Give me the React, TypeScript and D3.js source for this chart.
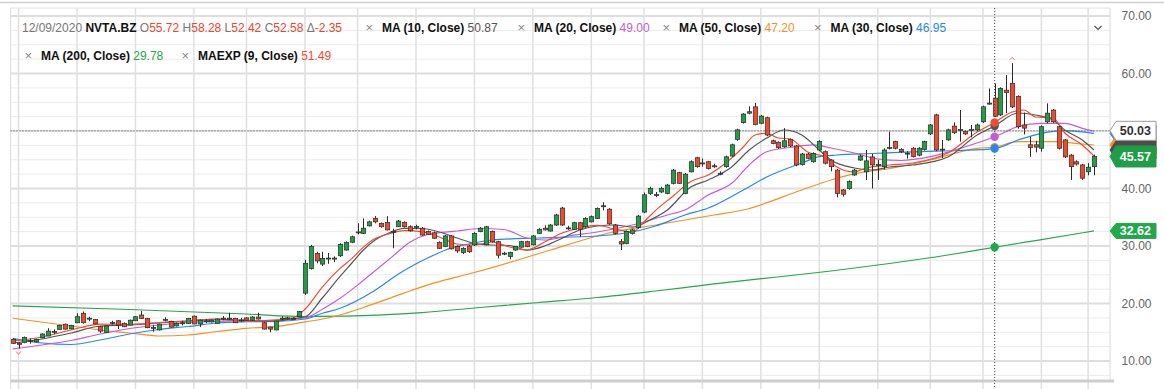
import { useEffect, useRef } from 'react';
import * as d3 from 'd3';

// daily candles, oldest first
const opens = [
  13.77, 13.1, 13.25, 13.5, 13.35, 14.05, 14.35, 15.1, 15.5, 16.4,
  15.6, 16.65, 18.3, 17.4, 17.2, 16.0, 14.95, 16.65, 17.0, 16.55,
  16.25, 17.0, 18.0, 17.4, 15.8, 15.4, 17.2, 16.9, 16.1, 16.6,
  16.55, 17.8, 16.45, 16.95, 16.8, 16.55, 17.4, 17.4, 17.4, 17.1,
  17.5, 17.1, 17.65, 16.65, 15.9, 15.4, 17.4, 17.5, 17.3, 17.7,
  21.8, 26.1, 28.7, 26.85, 27.85, 27.85, 28.3, 29.3, 30.65, 32.4,
  32.2, 33.5, 34.8, 33.95, 34.1, 32.5, 33.35, 34.1, 33.35, 33.35,
  33.1, 32.5, 32.3, 30.6, 29.9, 31.75, 29.9, 28.85, 30.0, 30.2,
  32.5, 30.2, 32.5, 30.75, 28.7, 28.15, 29.3, 29.8, 30.75, 30.2,
  32.2, 33.1, 32.6, 33.65, 36.6, 33.1, 32.9, 34.05, 33.35, 34.2,
  34.8, 36.9, 36.4, 33.65, 30.75, 30.45, 32.2, 33.2, 35.9, 39.15,
  38.9, 39.4, 39.15, 40.9, 42.75, 39.15, 42.9, 45.35, 44.4, 44.65,
  43.9, 42.6, 43.8, 45.65, 48.55, 51.45, 53.1, 54.2, 51.35, 52.3,
  48.3, 48.05, 47.25, 48.55, 47.4, 44.2, 46.0, 44.65, 46.7, 46.4,
  44.95, 43.2, 39.75, 40.0, 42.35, 44.95, 42.9, 45.5, 44.1, 43.8,
  47.1, 48.15, 46.8, 46.1, 47.0, 45.8, 46.8, 49.5, 52.8, 46.8,
  48.45, 50.85, 50.2, 49.9, 50.2, 50.2, 51.6, 54.8, 55.72, 52.8,
  57.1, 58.3, 56.0, 51.05, 47.6, 47.6, 47.0, 51.6, 53.65, 50.75,
  48.45, 45.8, 44.65, 44.1, 42.9, 43.8,
];
const highs = [
  13.95, 13.3, 14.25, 13.95, 13.9, 14.8, 15.7, 15.5, 16.3, 16.5,
  16.3, 18.3, 18.6, 17.7, 17.3, 16.1, 16.2, 17.0, 17.1, 16.7,
  17.2, 17.8, 18.7, 17.5, 16.3, 16.5, 17.6, 17.0, 16.7, 17.0,
  17.5, 17.9, 17.2, 17.3, 17.2, 17.4, 17.8, 18.4, 17.5, 17.5,
  17.6, 17.8, 18.4, 16.8, 16.0, 17.0, 17.8, 17.7, 17.6, 18.7,
  27.6, 30.2, 29.0, 29.0, 28.8, 28.2, 30.5, 30.8, 31.8, 33.95,
  34.8, 34.4, 35.2, 34.1, 35.2, 33.0, 34.5, 34.3, 33.6, 33.7,
  33.3, 32.7, 32.5, 30.8, 31.9, 31.9, 30.1, 29.8, 30.2, 32.4,
  33.3, 33.5, 32.7, 30.9, 29.0, 29.0, 30.0, 30.9, 30.9, 31.9,
  33.1, 33.6, 33.8, 35.6, 36.8, 33.5, 34.2, 34.2, 35.0, 35.3,
  36.7, 37.6, 36.6, 33.8, 31.2, 32.7, 33.0, 35.4, 39.3, 40.3,
  39.4, 40.3, 40.8, 43.4, 42.9, 42.7, 44.9, 45.5, 45.2, 44.8,
  44.3, 43.0, 45.7, 47.8, 50.4, 53.1, 54.3, 54.9, 52.8, 52.5,
  48.5, 48.2, 50.5, 48.7, 47.6, 46.2, 46.2, 46.3, 48.4, 46.6,
  45.1, 43.4, 39.9, 41.4, 43.4, 45.9, 46.7, 46.0, 45.0, 47.0,
  49.9, 48.3, 47.0, 46.5, 47.2, 47.2, 48.3, 51.2, 53.0, 48.45,
  50.4, 51.5, 53.65, 50.1, 51.05, 51.3, 54.4, 57.4, 58.28, 57.6,
  59.75, 61.8, 56.2, 53.2, 49.0, 48.3, 51.0, 54.8, 53.8, 50.9,
  48.6, 46.0, 44.9, 44.3, 44.4, 45.9,
];
const lows = [
  12.95, 12.2, 13.1, 13.0, 13.3, 13.95, 14.3, 14.65, 15.4, 15.45,
  15.5, 16.6, 16.5, 16.9, 16.4, 14.9, 14.9, 16.35, 15.55, 15.9,
  16.2, 16.95, 17.35, 15.7, 15.1, 15.3, 16.9, 15.8, 16.0, 16.2,
  16.5, 16.4, 15.9, 16.6, 16.7, 16.5, 17.1, 17.2, 16.6, 16.8,
  17.0, 17.0, 17.2, 15.5, 15.0, 15.35, 17.1, 17.2, 17.2, 17.6,
  21.5, 25.9, 27.0, 26.5, 26.9, 27.2, 28.1, 29.2, 30.5, 32.0,
  32.1, 33.4, 33.95, 33.2, 32.7, 29.6, 33.3, 33.2, 32.5, 32.9,
  31.8, 31.9, 31.2, 29.5, 29.8, 29.4, 28.8, 28.6, 28.8, 30.0,
  32.4, 30.1, 30.6, 27.85, 28.4, 27.7, 29.2, 29.7, 29.8, 30.1,
  32.1, 32.7, 32.5, 33.5, 33.5, 32.8, 32.8, 31.6, 33.2, 34.1,
  34.7, 36.2, 33.7, 32.0, 29.3, 30.3, 32.0, 33.0, 35.7, 38.9,
  38.5, 39.2, 39.0, 40.7, 40.8, 39.0, 42.8, 43.6, 43.8, 43.3,
  43.6, 42.3, 43.6, 45.5, 48.3, 51.3, 52.9, 51.0, 51.2, 49.1,
  47.7, 46.9, 47.1, 47.2, 43.9, 44.0, 45.1, 44.5, 46.5, 44.2,
  43.0, 38.45, 38.6, 39.8, 42.2, 44.8, 41.5, 40.0, 41.5, 43.3,
  46.8, 46.8, 46.2, 45.2, 45.4, 45.6, 46.6, 49.3, 46.5, 45.3,
  48.3, 49.5, 48.15, 49.3, 48.9, 50.0, 51.4, 54.6, 52.42, 52.6,
  53.1, 54.0, 50.4, 49.4, 45.5, 46.3, 46.4, 51.3, 51.4, 46.8,
  45.3, 41.5, 44.0, 41.5, 42.3, 42.3,
];
const closes = [
  13.08, 12.9, 14.1, 13.55, 13.77, 14.7, 15.2, 15.15, 16.2, 15.55,
  16.2, 17.7, 16.65, 17.45, 16.45, 15.2, 16.1, 16.7, 16.25, 15.95,
  17.1, 17.7, 17.4, 15.8, 15.85, 16.4, 17.25, 15.9, 16.55, 16.65,
  17.4, 16.45, 17.1, 17.0, 17.1, 17.3, 17.45, 17.45, 16.65, 17.15,
  17.1, 17.65, 17.3, 15.55, 15.55, 16.95, 17.45, 17.45, 17.4, 18.6,
  27.0, 29.9, 27.4, 27.85, 27.9, 27.9, 30.3, 30.6, 31.6, 32.45,
  33.1, 34.2, 34.2, 33.35, 32.8, 32.55, 34.35, 33.35, 32.65, 33.4,
  31.9, 32.0, 31.35, 29.6, 31.75, 29.5, 29.15, 29.6, 29.0, 32.2,
  33.1, 33.35, 30.75, 28.4, 28.75, 28.9, 29.9, 30.75, 29.9, 31.75,
  32.9, 32.8, 33.65, 35.4, 33.65, 33.15, 34.05, 32.9, 34.8, 35.1,
  36.55, 37.0, 33.85, 32.2, 30.35, 32.5, 32.8, 35.2, 38.9, 40.0,
  38.95, 40.0, 40.6, 43.2, 40.9, 42.5, 44.65, 43.8, 44.45, 43.5,
  43.95, 42.65, 45.5, 47.6, 50.2, 52.95, 53.35, 51.15, 52.6, 49.3,
  47.85, 47.1, 48.3, 47.4, 44.1, 46.0, 45.25, 46.1, 48.15, 44.4,
  43.8, 39.15, 39.0, 41.2, 43.2, 45.65, 44.8, 44.1, 44.15, 46.7,
  47.15, 47.0, 46.4, 46.15, 45.55, 47.0, 48.15, 51.05, 46.7, 46.85,
  50.2, 49.7, 50.25, 49.5, 50.25, 51.05, 54.2, 54.85, 52.58, 57.4,
  56.7, 54.2, 50.75, 50.5, 47.15, 47.2, 50.75, 53.1, 51.6, 47.0,
  45.5, 43.8, 44.25, 41.8, 43.7, 45.57,
];

// moving averages as [candle index, value]
const ma10 = [
  [0, 13.13], [5, 13.83], [10, 14.87], [15, 16.09], [20, 16.26], [25, 16.61], [30, 16.96], [35, 17.3],
  [40, 17.04], [45, 16.96], [48, 17.39], [50, 17.65], [53, 21.0], [56, 24.7], [58, 27.0], [60, 29.3],
  [62, 31.04], [64, 32.09], [67, 33.08], [70, 33.04], [73, 32.43], [76, 31.39], [79, 30.47], [82, 30.17],
  [85, 30.09], [88, 29.3], [91, 30.0], [94, 31.34], [97, 32.78], [100, 33.48], [103, 33.65], [106, 33.3],
  [109, 34.5], [112, 36.26], [116, 40.26], [119, 41.48], [123, 43.74], [126, 46.7], [129, 48.78], [132, 50.17],
  [135, 49.3], [138, 46.7], [140, 44.96], [144, 43.57], [147, 43.22], [150, 43.74], [154, 44.09], [160, 45.48],
  [165, 49.3], [168, 50.87], [172, 53.13], [175, 52.78], [178, 51.91], [180, 50.17], [183, 48.43], [185, 46.7],
];
const ema9 = [
  [0, 13.48], [5, 14.17], [10, 15.39], [15, 16.43], [20, 16.35], [25, 16.7], [30, 16.96], [35, 17.22],
  [40, 16.96], [45, 17.13], [48, 17.5], [50, 19.0], [53, 22.9], [56, 26.1], [58, 27.8], [60, 29.8],
  [62, 31.3], [64, 32.0], [67, 32.66], [70, 32.49], [73, 31.57], [76, 30.35], [79, 30.17], [82, 30.7],
  [85, 29.83], [88, 29.3], [91, 30.7], [94, 32.26], [97, 33.13], [100, 33.57], [103, 32.96], [106, 32.43],
  [108, 34.2], [110, 36.2], [113, 38.7], [116, 41.2], [119, 42.35], [123, 45.3], [125, 47.22], [127, 49.3],
  [129, 49.6], [131, 48.78], [133, 48.61], [136, 46.35], [139, 45.48], [141, 43.74], [144, 42.87], [146, 43.57],
  [150, 44.09], [154, 44.43], [160, 46.17], [165, 49.83], [168, 51.49], [171, 53.3], [173, 53.65], [175, 52.43],
  [178, 52.26], [180, 49.65], [183, 47.57], [185, 45.65],
];
const ma20 = [
  [0, 12.12], [5, 12.78], [10, 13.57], [15, 14.7], [20, 15.65], [25, 16.26], [30, 16.7], [35, 16.9],
  [40, 17.0], [45, 17.13], [50, 17.48], [53, 19.0], [56, 20.9], [59, 23.2], [62, 25.7], [65, 28.2],
  [68, 30.7], [71, 32.0], [76, 32.61], [80, 33.04], [84, 32.87], [88, 31.39], [91, 31.04], [95, 31.74],
  [100, 32.43], [106, 33.65], [112, 35.39], [115, 36.26], [119, 38.87], [123, 40.9], [126, 44.09], [129, 46.4],
  [133, 47.13], [137, 47.57], [140, 47.04], [144, 46.17], [148, 45.13], [152, 44.87], [157, 45.53], [163, 47.27],
  [168, 49.0], [172, 50.75], [176, 51.34], [180, 51.34], [183, 50.47], [185, 50.0],
];
const ma30 = [
  [0, 13.95], [5, 13.13], [10, 12.87], [15, 13.65], [20, 14.7], [25, 15.48], [30, 16.0], [35, 16.61],
  [40, 16.83], [45, 16.9], [50, 17.3], [53, 18.3], [56, 19.17], [62, 22.3], [66, 25.13], [71, 27.9],
  [75, 29.65], [78, 30.35], [82, 31.04], [90, 31.39], [100, 31.74], [105, 32.26], [110, 33.48], [115, 35.39],
  [119, 36.6], [125, 39.74], [129, 42.0], [135, 44.43], [138, 45.53], [141, 45.83], [147, 46.09], [155, 46.43],
  [162, 46.61], [168, 46.95], [172, 48.43], [176, 49.6], [180, 50.05], [185, 49.6],
];
const ma50 = [
  [0, 17.43], [10, 16.09], [15, 15.39], [20, 14.87], [25, 14.35], [30, 14.52], [35, 15.13], [40, 15.69],
  [45, 15.97], [50, 16.8], [53, 17.3], [56, 18.0], [60, 19.3], [65, 21.1], [70, 22.9], [74, 24.1],
  [78, 25.13], [87, 27.74], [92, 29.3], [100, 31.74], [102, 32.26], [110, 33.65], [120, 35.39], [125, 36.26],
  [135, 39.74], [140, 41.48], [146, 42.92], [149, 43.3], [157, 44.96], [165, 46.99], [168, 47.2], [172, 48.14],
  [178, 48.14], [183, 47.74], [185, 47.57],
];
const ma200 = [
  [0, 19.57], [20, 18.96], [40, 18.17], [50, 17.74], [56, 17.8], [60, 17.9], [70, 18.43], [80, 19.3],
  [90, 20.17], [100, 21.04], [110, 22.17], [120, 23.4], [130, 24.52], [140, 25.65], [150, 26.96], [160, 28.43],
  [168, 29.78], [175, 30.95], [185, 32.62],
];

const gridDays = [1, 11, 21, 31, 40, 50, 59, 69, 79, 89, 99, 108, 118, 128, 138, 148, 157, 166, 176, 184];
const yTicks = [10, 20, 30, 40, 50, 60, 70];
const crossIndex = 168;
const crossPrice = 50.03;
const lastClose = 45.57;
const lastMa200 = 32.62;

const GREEN = '#1f9e47';
const RED = '#ee4a2e';
const FONT = 'Liberation Sans, Arial, sans-serif';

const maLines = [
  { data: ma200, color: '#22a84a', value: 29.78 },
  { data: ma50, color: '#f7901e', value: 47.2 },
  { data: ma30, color: '#2489ee', value: 46.95 },
  { data: ma20, color: '#c45bd8', value: 49.0 },
  { data: ma10, color: '#555555', value: 50.87 },
  { data: ema9, color: '#f24a30', value: 51.49 },
];

const legendRow1 = [
  { x: 365.5, label: 'MA (10, Close)', value: '50.87', color: '#555555' },
  { x: 517.5, label: 'MA (20, Close)', value: '49.00', color: '#c45bd8' },
  { x: 662.5, label: 'MA (50, Close)', value: '47.20', color: '#f7901e' },
  { x: 814, label: 'MA (30, Close)', value: '46.95', color: '#2489ee' },
];
const legendRow2 = [
  { x: 24.5, label: 'MA (200, Close)', value: '29.78', color: '#22a84a' },
  { x: 181.5, label: 'MAEXP (9, Close)', value: '51.49', color: '#f24a30' },
];
const ohlc = [
  ['O', '55.72'], ['H', '58.28'], ['L', '52.42'], ['C', '52.58'], ['Δ', '-2.35'],
];

const App = () => {
  const svgRef = useRef<SVGSVGElement>(null);
  const width = 1164;
  const height = 389;
  const plot = { left: 10.5, right: 1110, top: 8, bottom: 380 };

  useEffect(() => {
    const svg = d3.select(svgRef.current);
    svg.selectAll('*').remove();

    const x = d3.scaleLinear().domain([0, opens.length - 1]).range([12.7, 1094]);
    const y = d3.scaleLinear().domain([10, 70]).range([361, 16]);

    svg.append('rect').attr('width', width).attr('height', height).attr('fill', '#fff');

    // grid
    const grid = svg.append('g');
    d3.range(7.5, 70.01, 2.5).forEach(v => {
      const major = v % 10 === 0;
      grid.append('line')
        .attr('x1', plot.left).attr('x2', plot.right)
        .attr('y1', y(v)).attr('y2', y(v))
        .attr('stroke', major ? '#dedede' : '#ececec')
        .attr('stroke-width', major ? 2 : 1);
    });
    gridDays.forEach(d => {
      grid.append('line')
        .attr('x1', x(d)).attr('x2', x(d))
        .attr('y1', plot.top).attr('y2', height)
        .attr('stroke', '#e0e0e0').attr('stroke-width', 1.5);
    });
    // frame
    svg.append('line').attr('x1', 0).attr('x2', width).attr('y1', 2.5).attr('y2', 2.5)
      .attr('stroke', '#cfcfcf').attr('stroke-width', 1.5);
    svg.append('line').attr('x1', plot.left).attr('x2', plot.right).attr('y1', plot.top).attr('y2', plot.top)
      .attr('stroke', '#e0e0e0');
    svg.append('line').attr('x1', plot.left).attr('x2', plot.left).attr('y1', plot.top).attr('y2', height)
      .attr('stroke', '#dcdcdc');
    svg.append('line').attr('x1', plot.right).attr('x2', plot.right).attr('y1', plot.top).attr('y2', plot.bottom)
      .attr('stroke', '#d8d8d8');
    svg.append('line').attr('x1', plot.left).attr('x2', plot.right + 4).attr('y1', plot.bottom + 1).attr('y2', plot.bottom + 1)
      .attr('stroke', '#cdcdcd').attr('stroke-width', 3);

    // y labels
    yTicks.forEach(t => {
      svg.append('text')
        .attr('x', 1121.5).attr('y', y(t)).attr('dy', '0.36em')
        .attr('font-family', FONT).attr('font-size', 12).attr('fill', '#666')
        .text(t.toFixed(2));
    });

    // moving averages
    const line = d3.line<number[]>()
      .x(d => x(d[0]))
      .y(d => y(d[1]))
      .curve(d3.curveMonotoneX);
    maLines.forEach(m => {
      svg.append('path')
        .attr('d', line(m.data))
        .attr('fill', 'none')
        .attr('stroke', m.color)
        .attr('stroke-width', 1.2);
    });

    // candles
    const bw = 4.4;
    const candles = svg.append('g');
    opens.forEach((o, i) => {
      const c = closes[i];
      const cx = Math.round(x(i)) + 0.5;
      candles.append('line')
        .attr('x1', cx).attr('x2', cx)
        .attr('y1', y(highs[i])).attr('y2', y(lows[i]))
        .attr('stroke', '#2b2b2b').attr('stroke-width', 1);
      const top = y(Math.max(o, c));
      const h = Math.max(1, y(Math.min(o, c)) - top);
      candles.append('rect')
        .attr('x', cx - bw / 2).attr('y', top)
        .attr('width', bw).attr('height', h)
        .attr('fill', c >= o ? GREEN : RED)
        .attr('stroke', '#2b2b2b').attr('stroke-width', 0.7);
    });

    // low / high markers
    const lowIdx = d3.minIndex(lows);
    const highIdx = d3.maxIndex(highs);
    svg.append('path')
      .attr('d', `M${x(lowIdx) - 2.5},${y(lows[lowIdx]) + 3} l2.5,3 l2.5,-3`)
      .attr('fill', 'none').attr('stroke', '#f47a6a').attr('stroke-width', 1);
    svg.append('path')
      .attr('d', `M${x(highIdx) - 2.5},${y(highs[highIdx]) - 3} l2.5,-3 l2.5,3`)
      .attr('fill', 'none').attr('stroke', '#f47a6a').attr('stroke-width', 1);

    // crosshair
    const cx = x(crossIndex);
    svg.append('line')
      .attr('x1', cx).attr('x2', cx).attr('y1', plot.top).attr('y2', height)
      .attr('stroke', '#444').attr('stroke-dasharray', '1,2');
    svg.append('line')
      .attr('x1', plot.left).attr('x2', plot.right).attr('y1', y(crossPrice)).attr('y2', y(crossPrice))
      .attr('stroke', '#555').attr('stroke-dasharray', '1,2');
    maLines.forEach(m => {
      svg.append('circle')
        .attr('cx', cx).attr('cy', y(m.value)).attr('r', 4.2)
        .attr('fill', m.color);
    });

    // right side value tags
    const tag = (v: number, fill: string, stroke: string, txt: string | null, color: string, h: number) => {
      const yc = y(v);
      const x0 = plot.right;
      const x1 = plot.right + 6;
      const x2 = 1156;
      svg.append('path')
        .attr('d', `M${x0},${yc} L${x1},${yc - h / 2} L${x2},${yc - h / 2} L${x2},${yc + h / 2} L${x1},${yc + h / 2} Z`)
        .attr('fill', fill).attr('stroke', stroke).attr('stroke-width', 1);
      if (txt) {
        svg.append('text')
          .attr('x', 1151).attr('y', yc).attr('dy', '0.36em').attr('text-anchor', 'end')
          .attr('font-family', FONT).attr('font-size', 12.5).attr('font-weight', 'bold')
          .attr('fill', color).text(txt);
      }
    };
    tag(49.6, '#2489ee', '#2489ee', null, '#fff', 18);
    tag(47.57, '#f7901e', '#f7901e', null, '#fff', 18);
    tag(46.7, '#4d4d4d', '#4d4d4d', null, '#fff', 18);
    tag(lastClose, GREEN, GREEN, lastClose.toFixed(2), '#fff', 21);
    tag(crossPrice, '#fff', '#9a9a9a', crossPrice.toFixed(2), '#333', 19);
    tag(lastMa200, '#22a84a', '#22a84a', lastMa200.toFixed(2), '#fff', 15);

    // legend
    const row1 = svg.append('text')
      .attr('x', 22).attr('y', 32)
      .attr('font-family', FONT).attr('font-size', 12);
    row1.append('tspan').attr('fill', '#777').text('12/09/2020');
    row1.append('tspan').attr('fill', '#111').attr('font-weight', 'bold').text(' NVTA.BZ');
    ohlc.forEach(([k, v]) => {
      row1.append('tspan').attr('fill', '#777').text(' ' + k);
      row1.append('tspan').attr('fill', '#f0442c').text(v);
    });
    const legendItem = (item: { x: number; label: string; value: string; color: string }, by: number) => {
      svg.append('text')
        .attr('x', item.x).attr('y', by)
        .attr('font-family', FONT).attr('font-size', 13).attr('fill', '#888')
        .text('×');
      const t = svg.append('text')
        .attr('x', item.x + 16.5).attr('y', by)
        .attr('font-family', FONT).attr('font-size', 12);
      t.append('tspan').attr('font-weight', 'bold').attr('fill', '#111').text(item.label);
      t.append('tspan').attr('fill', item.color).text(' ' + item.value);
    };
    legendRow1.forEach(it => legendItem(it, 32));
    legendRow2.forEach(it => legendItem(it, 60));

    svg.append('path')
      .attr('d', 'M1094.5,26 L1098,29.5 L1101.5,26')
      .attr('fill', 'none').attr('stroke', '#555').attr('stroke-width', 1.2);
  }, []);

  return (
    <svg
      ref={svgRef}
      width={width}
      height={height}
      style={{ position: 'absolute', left: 0, top: 0 }}
    />
  );
};

export default App;
